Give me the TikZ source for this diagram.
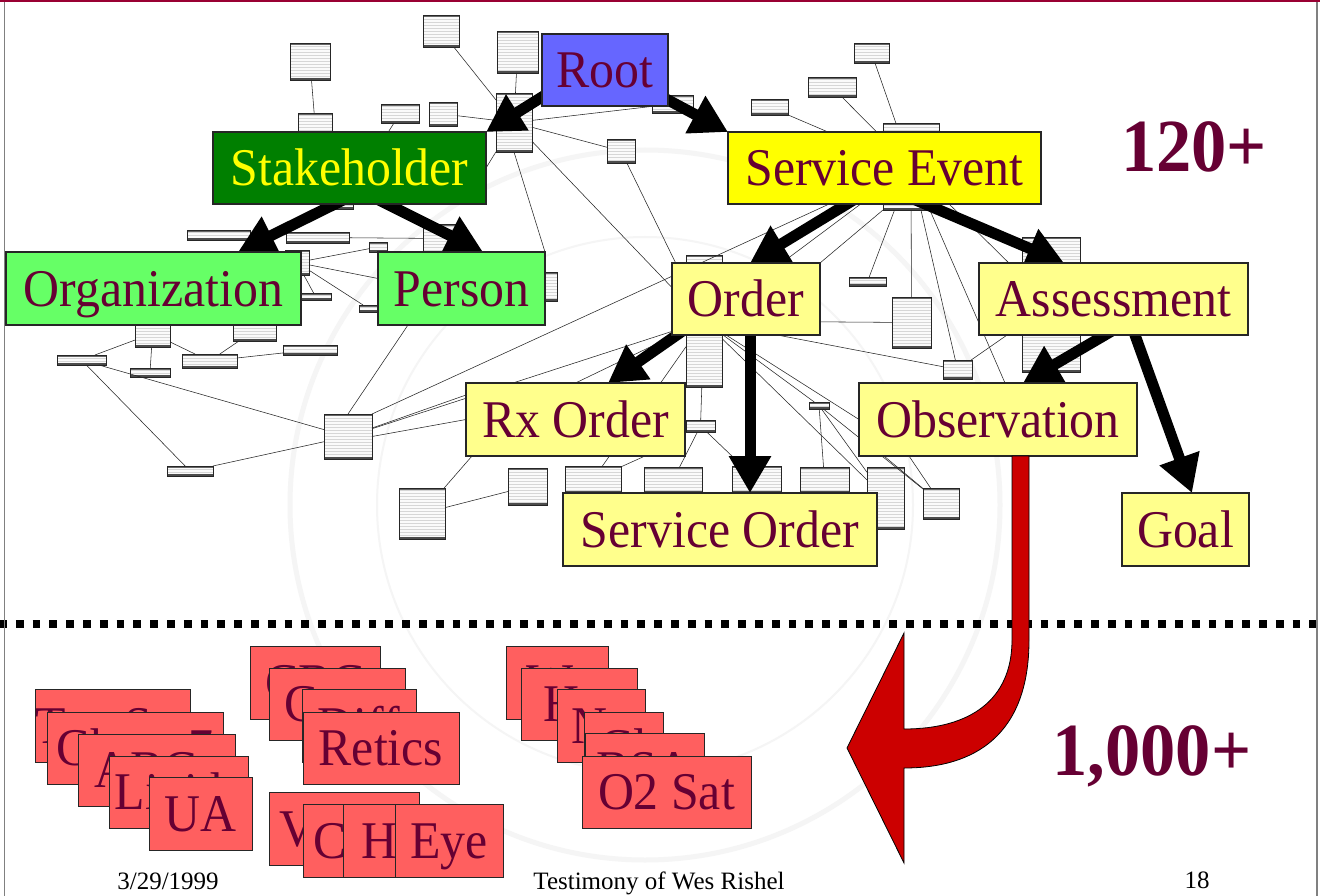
\documentclass[tikz,border=0pt]{standalone}
\usepackage{fontspec}
\setmainfont{Liberation Serif}
\newfontfamily\slidefont{Liberation Serif}[FakeStretch=0.94]
\usetikzlibrary{arrows.meta,patterns,calc}

\definecolor{maroon}{HTML}{660033}
\definecolor{rootblue}{HTML}{6666FF}
\definecolor{darkgreen}{HTML}{007F00}
\definecolor{lightgreen}{HTML}{66FF66}
\definecolor{brightyellow}{HTML}{FFFF00}
\definecolor{paleyellow}{HTML}{FFFF8C}
\definecolor{labred}{HTML}{FF5F5F}
\definecolor{arrowred}{HTML}{CC0000}
\definecolor{framered}{HTML}{990033}

\pgfdeclarelayer{seal}
\pgfdeclarelayer{uml}
\pgfdeclarelayer{links}
\pgfsetlayers{seal,uml,links,main}

\tikzset{
  bigbox/.style={draw=black!85, line width=1.2pt, inner sep=0pt, outer sep=0pt,
    text height=35pt, text depth=0pt, text=maroon,
    font=\slidefont\fontsize{53}{58}\selectfont},
  classbox/.style={bigbox, fill=paleyellow},
  labbox/.style={bigbox, fill=labred, line width=1pt},
  umlbox/.style={draw=black!85, line width=0.6pt, fill=black!2, inner sep=0pt, outer sep=0pt,
    path picture={
      \fill[pattern=horizontal lines, pattern color=black!16]
        (path picture bounding box.south west) rectangle (path picture bounding box.north east);
      \fill[black!60] ([yshift=-2pt]path picture bounding box.north west)
        rectangle (path picture bounding box.north east);
      \fill[black!70] ([yshift=2.2pt]path picture bounding box.south west)
        rectangle (path picture bounding box.south east);
    }},
  umlline/.style={black!85, line width=0.55pt},
  relarrow/.style={line width=11pt, -{Triangle[length=37pt,width=40pt]}},
  bigcount/.style={font=\slidefont\bfseries\fontsize{75}{80}\selectfont, text=maroon, anchor=base, inner sep=0pt},
  footer/.style={font=\fontsize{25}{30}\selectfont, anchor=base, inner sep=0pt},
}

% box given by its corners: style, name, x1, y1, x2, y2, text
\newcommand\boxat[7]{\node[#1, minimum width={#5pt-#3pt}, minimum height={#6pt-#4pt}] (#2) at ({(#3+#5)/2},{(#4+#6)/2}) {#7};}
% small class box of the model diagram: name, x1, y1, x2, y2
\newcommand\umlat[5]{\node[umlbox, minimum width={#4pt-#2pt}, minimum height={#5pt-#3pt}] (#1) at ({(#2+#4)/2},{(#3+#5)/2}) {};}

\begin{document}
\begin{tikzpicture}[x=1pt,y=-1pt]
\useasboundingbox (0,0) rectangle (1320,896);

\begin{pgfonlayer}{seal}
  \fill[white] (0,0) rectangle (1320,896);
  \draw[black!4, line width=5pt] (645,505) circle[radius=355];
  \draw[black!4, line width=2pt] (645,505) circle[radius=268];
\end{pgfonlayer}

% ---------- main classes ----------
\boxat{bigbox, fill=rootblue}{Root}{542}{34}{668}{106}{Root}
\boxat{bigbox, fill=darkgreen, text=brightyellow}{Stakeholder}{213}{132}{486}{204}{Stakeholder}
\boxat{bigbox, fill=brightyellow}{ServiceEvent}{728}{132}{1041}{204}{Service Event}
\boxat{bigbox, fill=lightgreen}{Organization}{6}{252}{301}{325}{Organization}
\boxat{bigbox, fill=lightgreen}{Person}{378}{252}{545}{325}{Person}
\boxat{classbox}{Order}{672}{263}{820}{335}{Order}
\boxat{classbox}{Assessment}{979}{263}{1248}{335}{Assessment}
\boxat{classbox}{RxOrder}{466}{383}{685}{456}{Rx Order}
\boxat{classbox}{Observation}{859}{383}{1137}{456}{Observation}
\boxat{classbox}{ServiceOrder}{563}{493}{877}{566}{Service Order}
\boxat{classbox}{Goal}{1122}{493}{1249}{566}{Goal}

% ---------- detailed model underneath ----------
\begin{pgfonlayer}{uml}
  \umlat{u1}{290}{43}{330}{80}
  \umlat{u2}{423}{15}{459}{47}
  \umlat{u3}{497}{31}{538}{73}
  \umlat{u4}{298}{113}{332}{134}
  \umlat{u5}{381}{104}{419}{123}
  \umlat{u6}{429}{102}{457}{126}
  \umlat{u7}{496}{93}{532}{152}
  \umlat{u8}{607}{139}{635}{163}
  \umlat{u9}{652}{95}{693}{113}
  \umlat{v1}{854}{43}{889}{63}
  \umlat{v2}{808}{77}{856}{97}
  \umlat{v3}{751}{99}{788}{115}
  \umlat{hSE}{883}{123}{939}{210}
  \umlat{hAss}{1022}{237}{1080}{372}
  \umlat{v6}{849}{277}{886}{286}
  \umlat{v7}{892}{297}{931}{348}
  \umlat{v8}{943}{360}{972}{379}
  \umlat{w1}{135}{320}{170}{347}
  \umlat{w2}{233}{320}{276}{341}
  \umlat{w3}{57}{355}{106}{365}
  \umlat{w4}{130}{368}{170}{377}
  \umlat{w5}{182}{354}{237}{368}
  \umlat{w6}{283}{345}{337}{355}
  \umlat{w7}{324}{414}{372}{459}
  \umlat{w8}{167}{466}{213}{476}
  \umlat{w9}{399}{488}{445}{539}
  \umlat{x1}{508}{468}{547}{505}
  \umlat{y1}{565}{466}{621}{493}
  \umlat{y2}{644}{467}{702}{493}
  \umlat{y3}{732}{466}{781}{493}
  \umlat{y4}{800}{467}{849}{493}
  \umlat{y5}{867}{467}{904}{529}
  \umlat{y6}{923}{488}{959}{519}
  \umlat{y7}{686}{420}{715}{432}
  \umlat{y8}{809}{402}{829}{409}
  \umlat{hOrd}{686}{255}{722}{387}
  \umlat{hPer}{423}{224}{463}{253}
  \umlat{hSH}{335}{195}{353}{209}
  \umlat{p1}{369}{242}{387}{252}
  \umlat{p2}{285}{250}{309}{275}
  \umlat{p3}{300}{293}{331}{300}
  \umlat{p4}{359}{305}{378}{312}
  \umlat{p5}{286}{232}{349}{243}
  \umlat{p6}{187}{230}{250}{240}
  \umlat{p7}{535}{272}{557}{301}

  \draw[umlline] (u1) -- (u4);
  \draw[umlline] (u2) -- (u7);
  \draw[umlline] (u3) -- (u7);
  \draw[umlline] (u6) -- (u7);
  \draw[umlline] (u5) -- (hSH);
  \draw[umlline] (u7) -- (u8);
  \draw[umlline] (u7) -- (u9);
  \draw[umlline] (u7) -- (hOrd);
  \draw[umlline] (u8) -- (hOrd);
  \draw[umlline] (u7.south) -- (Person.north east);
  \draw[umlline] (u7) -- (Stakeholder.east);
  \draw[umlline] (v1) -- (hSE);
  \draw[umlline] (v2) -- (hSE);
  \draw[umlline] (v3) -- ([xshift=100pt]ServiceEvent.north west);
  \draw[umlline] (hSE) -- (v6);
  \draw[umlline] (hSE) -- (v7);
  \draw[umlline] (hSE) -- (v8);
  \draw[umlline] (hSE) -- ([xshift=7pt]Observation.north);
  \draw[umlline] (hSE) -- (hAss);
  \draw[umlline] (hSE) -- (hOrd);
  \draw[umlline] (hSE.south west) -- (Order.north east);
  \draw[umlline] (u9) -- (ServiceEvent.north west);
  \draw[umlline] (w7.north east) -- (hSE);
  \draw[umlline] (w7) -- (hOrd);
  \draw[umlline] (w7.east) -- (RxOrder.west);
  \draw[umlline] (w7) -- ([yshift=-12pt]RxOrder.north west);
  \draw[umlline] (w7.north) -- ([xshift=30pt]Person.south west);
  \draw[umlline] (w3) -- (w1);
  \draw[umlline] (w4) -- (w1);
  \draw[umlline] (w5) -- (w1);
  \draw[umlline] (w5) -- (w2);
  \draw[umlline] (w5) -- (w6);
  \draw[umlline] (w3) -- (w7);
  \draw[umlline] (w3) -- (w8);
  \draw[umlline] (w8) -- (w7);
  \draw[umlline] (p2) -- (p1);
  \draw[umlline] (p2) -- ([yshift=10pt]Person.west);
  \draw[umlline] (p2) -- (p4);
  \draw[umlline] (p2) -- (p3);
  \draw[umlline] (p5) -- (hPer);
  \draw[umlline] ([xshift=6pt]RxOrder.south west) -- (w9);
  \draw[umlline] (w9) -- (x1);
  \draw[umlline] ([xshift=-40pt]RxOrder.south east) -- (y1);
  \draw[umlline] (RxOrder.north) -- (hOrd);
  \draw[umlline] (hOrd) -- (y7);
  \draw[umlline] (y7) -- (y2);
  \draw[umlline] (y7) -- (y3);
  \draw[umlline] (hOrd) -- (y8);
  \draw[umlline] (hOrd) -- (v8);
  \draw[umlline] (hOrd) -- (v7);
  \draw[umlline] (hOrd) -- (Observation.west);
  \draw[umlline] (hOrd) -- (y5);
  \draw[umlline] (hOrd) -- (y1);
  \draw[umlline] (y8) -- (y4);
  \draw[umlline] (y8) -- (y5);
  \draw[umlline] (y8) -- (y6);
  \draw[umlline] ([xshift=25pt]Observation.south west) -- (y6);
  \draw[umlline] ([xshift=50pt]Observation.south west) -- (y6);
  \draw[umlline] (hAss) -- (v8);
\end{pgfonlayer}

% ---------- generalisation arrows ----------
\coordinate (t1) at ([yshift=9pt]Root.south west);      \coordinate (h1) at (Stakeholder.north east);
\coordinate (t2) at ([yshift=6pt]Root.south east);      \coordinate (h2) at (ServiceEvent.north west);
\coordinate (t3) at ([xshift=-14.5pt]Stakeholder.south); \coordinate (h3) at ([xshift=84.5pt]Organization.north);
\coordinate (t4) at ([xshift=37.5pt]Stakeholder.south);  \coordinate (h4) at ([xshift=21.5pt]Person.north);
\coordinate (t5) at ([xshift=-37.5pt]ServiceEvent.south); \coordinate (h5) at ([xshift=4pt]Order.north);
\coordinate (t6) at ([xshift=40.5pt]ServiceEvent.south);  \coordinate (h6) at ([xshift=-49.5pt]Assessment.north);
\coordinate (t7) at ([xshift=12pt,yshift=5pt]Order.south west); \coordinate (h7) at ([xshift=32.5pt]RxOrder.north);
\coordinate (t8) at ([xshift=4pt]Order.south);          \coordinate (h8) at ([xshift=30pt]ServiceOrder.north);
\coordinate (t9) at ([xshift=-8.5pt]Assessment.south);  \coordinate (h9) at ([xshift=25pt]Observation.north);
\coordinate (t10) at ([xshift=21.5pt]Assessment.south); \coordinate (h10) at ([xshift=6.5pt]Goal.north);

\begin{pgfonlayer}{links}
  \draw[relarrow] ($(t1)!-0.45!(h1)$) -- (h1);
  \draw[relarrow] ($(t2)!-0.45!(h2)$) -- (h2);
  \draw[relarrow] ($(t3)!-0.3!(h3)$) -- (h3);
  \draw[relarrow] ($(t4)!-0.3!(h4)$) -- (h4);
  \draw[relarrow] ($(t5)!-0.3!(h5)$) -- (h5);
  \draw[relarrow] ($(t6)!-0.25!(h6)$) -- (h6);
  \draw[relarrow] ($(t7)!-0.3!(h7)$) -- (h7);
  \draw[relarrow] ($(t8)!-0.15!(h8)$) -- (h8);
  \draw[relarrow] ($(t9)!-0.3!(h9)$) -- (h9);
  \draw[relarrow] ($(t10)!-0.12!(h10)$) -- (h10);
\end{pgfonlayer}

% ---------- separator ----------
\draw[line width=8pt, dash pattern=on 7.7pt off 9.1pt] (-1,624) -- (1321,624);

% ---------- the many specialised observations ----------
\boxat{labbox}{a1}{42}{689}{184}{762}{Tox Scr}
\boxat{labbox}{a2}{47}{712}{223}{784}{Chem 7}
\boxat{labbox}{a3}{78}{734}{235}{806}{ABGs}
\boxat{labbox}{a4}{109}{756}{248}{828}{Lipids}
\boxat{labbox}{a5}{149}{777}{252}{850}{UA}

\boxat{labbox}{b1}{250}{646}{380}{719}{CBC}
\boxat{labbox}{b2}{269}{668}{405}{740}{Coag}
\boxat{labbox}{b3}{302}{689}{416}{762}{Diff}
\boxat{labbox}{b4}{303}{712}{459}{784}{Retics}

\boxat{labbox}{c1}{269}{792}{419}{865}{Vision}
\boxat{labbox}{c2}{303}{804}{420}{877}{Chol}
\boxat{labbox}{c3}{343}{804}{450}{877}{HR}
\boxat{labbox}{c4}{395}{804}{503}{877}{Eye}

\boxat{labbox}{d1}{506}{646}{608}{719}{Wt}
\boxat{labbox}{d2}{521}{668}{637}{740}{Hct}
\boxat{labbox}{d3}{557}{689}{645}{762}{Na}
\boxat{labbox}{d4}{584}{712}{663}{784}{Cl}
\boxat{labbox}{d5}{585}{733}{704}{806}{BSA}
\boxat{labbox}{d6}{582}{756}{751}{828}{O2 Sat}

% ---------- curved arrow from Observation ----------
\draw[fill=arrowred, draw=black, line width=0.8pt, line join=miter]
  ([xshift=14pt]Observation.south) -- (1012,640)
  .. controls (1012,700) and (970,729) .. (904,729)
  -- (904,633) -- (847,748) -- (904,863) -- (904,768)
  .. controls (975,768) and (1029,735) .. (1029,640)
  -- ([xshift=31pt]Observation.south) -- cycle;

% ---------- counts ----------
\node[bigcount] (count120) at (1194,172) {120+};
\node[bigcount] (count1000) at (1152,775) {1,000+};

% ---------- footer ----------
\node[footer] (date) at (168,889) {3/29/1999};
\node[footer] (title) at (659,889) {Testimony of Wes Rishel};
\node[footer] (page) at (1197,888) {18};

% ---------- frame ----------
\draw[framered, line width=2pt] (0,1) -- (1320,1);
\draw[black!50, line width=1.5pt] (4.5,2) -- (4.5,896);
\draw[black!50, line width=1.5pt] (1317,2) -- (1317,896);
\end{tikzpicture}
\end{document}
